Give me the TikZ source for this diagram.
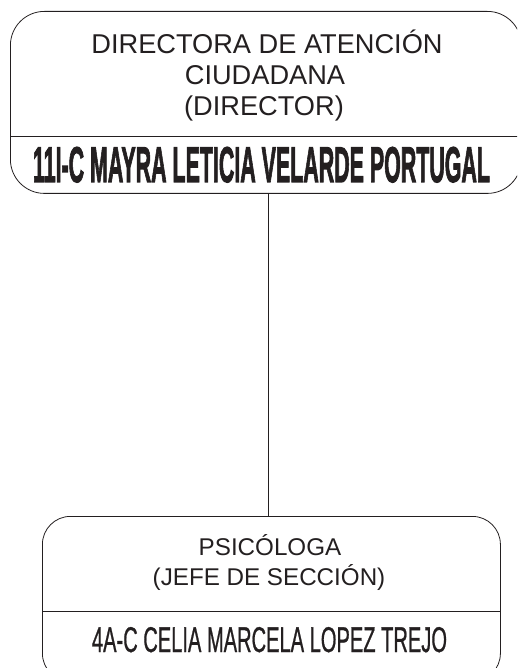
\documentclass[tikz,border=0pt]{standalone}
\usepackage{fontspec}
\setmainfont{Liberation Sans}
\newfontface\heavyfont{Liberation Sans Bold}[FakeBold=2.5]
\newfontface\namefont{Liberation Sans}[FakeBold=1]
\usepackage{graphicx}
\definecolor{ink}{HTML}{231F20}
\begin{document}
\begin{tikzpicture}[x=1pt,y=-1pt,
  box/.style={draw=ink, line width=0.8pt, rounded corners=#1, inner sep=0pt, anchor=north west},
  rule/.style={draw=ink, line width=0.8pt},
  lbl/.style={text=ink, anchor=base, inner sep=0pt, font=\fontsize{#1}{#1}\selectfont}]
\useasboundingbox (0,0) rectangle (517,668);
\clip (0,0) rectangle (517,668);
% boxes
\node[box=34, minimum width=511pt, minimum height=182pt] (top) at (10,11) {};
\node[box=28, minimum width=458pt, minimum height=165pt] (bot) at (42,516) {};
% dividers
\draw[rule] (top.west |- 0,136) coordinate (d1a) -- (top.east |- 0,136) coordinate (d1b);
\draw[rule] (bot.west |- 0,611) coordinate (d2a) -- (bot.east |- 0,611) coordinate (d2b);
% connector
\draw[rule] ([xshift=2.5pt]top.south) -- ([xshift=2.5pt]top.south |- bot.north);
% top texts
\node[lbl=27.2] (ta) at (267,54) {DIRECTORA DE ATENCIÓN};
\node[lbl=27.2] (tb) at (265,85) {CIUDADANA};
\node[lbl=27.2] (tc) at (264,116) {(DIRECTOR)};
\node[lbl=10] (tn) at (261.5,182) {\resizebox{457pt}{35pt}{\heavyfont 11I-C MAYRA LETICIA VELARDE PORTUGAL}};
% bottom texts
\node[lbl=24.2] (ba) at (270,555) {PSICÓLOGA};
\node[lbl=24.2] (bb) at (269,585) {(JEFE DE SECCIÓN)};
\node[lbl=10] (bn) at (269.5,652) {\resizebox{355pt}{25pt}{\namefont 4A-C CELIA MARCELA LOPEZ TREJO}};
\end{tikzpicture}
\end{document}
